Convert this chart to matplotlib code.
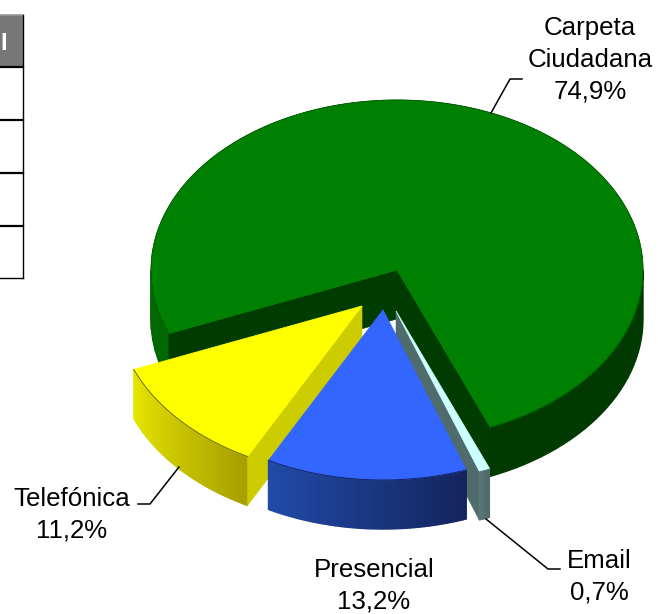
import numpy as np
import matplotlib
matplotlib.use('Agg')
import matplotlib.pyplot as plt
from matplotlib.colors import to_rgb

plt.rcParams['font.family'] = ['Liberation Sans', 'DejaVu Sans']

# Data
names = ['Carpeta\nCiudadana', 'Telefónica', 'Presencial', 'Email']
shares = [74.9, 11.2, 13.2, 0.7]
table_header = 'I'

W, H = 658, 614
fig = plt.figure(figsize=(W / 100, H / 100), dpi=100)
ax = fig.add_axes([0, 0, 1, 1])
ax.set_xlim(0, W)
ax.set_ylim(H, 0)
ax.axis('off')

RX, RY, DEPTH = 246, 170, 49


def arc(cx, cy, a0, a1, n=120):
    t = np.radians(np.linspace(a0, a1, n))
    return cx + RX * np.cos(t), cy - RY * np.sin(t)


def mix(c0, c1, f):
    c0, c1 = np.array(to_rgb(c0)), np.array(to_rgb(c1))
    return tuple(c0 + (c1 - c0) * f)


def side(cx, cy, a0, a1, c0, c1, z=1, steps=60):
    # outer wall of a slice, split in strips for the gradient
    angs = np.linspace(a0, a1, steps + 1)
    for i in range(steps):
        x, y = arc(cx, cy, angs[i], angs[i + 1], 4)
        px = np.r_[x, x[::-1]]
        py = np.r_[y, y[::-1] + DEPTH]
        c = mix(c0, c1, i / max(steps - 1, 1))
        ax.fill(px, py, color=c, lw=1.0, zorder=z)


def cut(cx, cy, a, color, z=1):
    # flat wall from the apex out to the rim
    x, y = arc(cx, cy, a, a, 1)
    ax.fill([cx, x[0], x[0], cx], [cy, y[0], y[0] + DEPTH, cy + DEPTH],
            color=color, lw=0.4, zorder=z)


def top(cx, cy, a0, a1, color, z=1):
    x, y = arc(cx, cy, a0, a1, 240)
    ax.fill(np.r_[cx, x], np.r_[cy, y], facecolor=color,
            edgecolor=color, lw=0.6, zorder=z)


# slice angles from the shares, going counter clockwise
start = 292.3
angles = [start]
for s in shares:
    angles.append(angles[-1] + s * 3.6)
g0, g1 = angles[0], angles[1]
y0, y1 = angles[1] - 360, angles[2] - 360
b0, b1 = angles[2] - 360, angles[3] - 360
e0, e1 = angles[3] - 360, angles[4] - 360

# Carpeta Ciudadana
gx, gy = 397, 270
side(gx, gy, g0, 360, '#003a00', '#003a00', 1, 10)
side(gx, gy, 540, g1, '#006800', '#006800', 1, 6)
cut(gx, gy, g0, '#003c00', 2)
cut(gx, gy, g1, '#003c00', 2)
top(gx, gy, g0, g1, '#008000', 3)
ax.plot(*arc(gx, gy, g0, g1), color='#005000', lw=0.5, zorder=3)

# Telefonica
yx, yy = 362, 306
side(yx, yy, y0, y1, '#e8e800', '#a8a000', 4)
cut(yx, yy, y1, '#cccc00', 5)
top(yx, yy, y0, y1, '#ffff00', 6)
ax.plot(*arc(yx, yy, y0, y1), color='#6a6a00', lw=0.7, zorder=6)

# Email
ex, ey = 396, 311
cut(ex, ey, e0, '#4f6b6b', 7)
side(ex, ey, e0, e1, '#5a7676', '#4f6b6b', 8, 4)
top(ex, ey, e0, e1, '#ccffff', 9)

# Presencial
bx, by = 383, 310
side(bx, by, b0, b1, '#214ba8', '#14245e', 10)
top(bx, by, b0, b1, '#3366ff', 11)
ax.plot(*arc(bx, by, b0, b1), color='#14245e', lw=0.7, zorder=11)

# Labels and leader lines
fs = 18.6
ls = 1.41
label_text = [f'{n}\n{str(s).replace(".", ",")}%' for n, s in zip(names, shares)]
ax.text(590, 60, label_text[0], ha='center', va='center', fontsize=fs, linespacing=ls)
ax.text(72, 515, label_text[1], ha='center', va='center', fontsize=fs, linespacing=ls)
ax.text(374, 586, label_text[2], ha='center', va='center', fontsize=fs, linespacing=ls)
ax.text(599, 577, label_text[3], ha='center', va='center', fontsize=fs, linespacing=ls)
ax.plot([491, 510, 522], [113, 79, 79], color='black', lw=1.1, zorder=13)
ax.plot([179, 150, 138], [467, 504, 504], color='black', lw=1.1, zorder=13)
ax.plot([486, 548, 560], [519, 569, 569], color='black', lw=1.1, zorder=13)

# Cut off table on the left edge
ax.fill([0, 23, 23, 0], [15, 15, 67, 67], color='#777777', lw=0, zorder=1)
ax.plot([0, 23], [15, 15], color='#999999', lw=1.2)
for yl in [67, 120, 173, 226]:
    ax.plot([0, 23], [yl, yl], color='black', lw=1.6)
ax.plot([0, 23], [278, 278], color='black', lw=1.0)
ax.plot([23, 23], [15, 278], color='black', lw=1.0)
ax.text(0, 43, table_header, color='white', fontsize=17, fontweight='bold', ha='left', va='center')

fig.savefig('out.png', dpi=100)
